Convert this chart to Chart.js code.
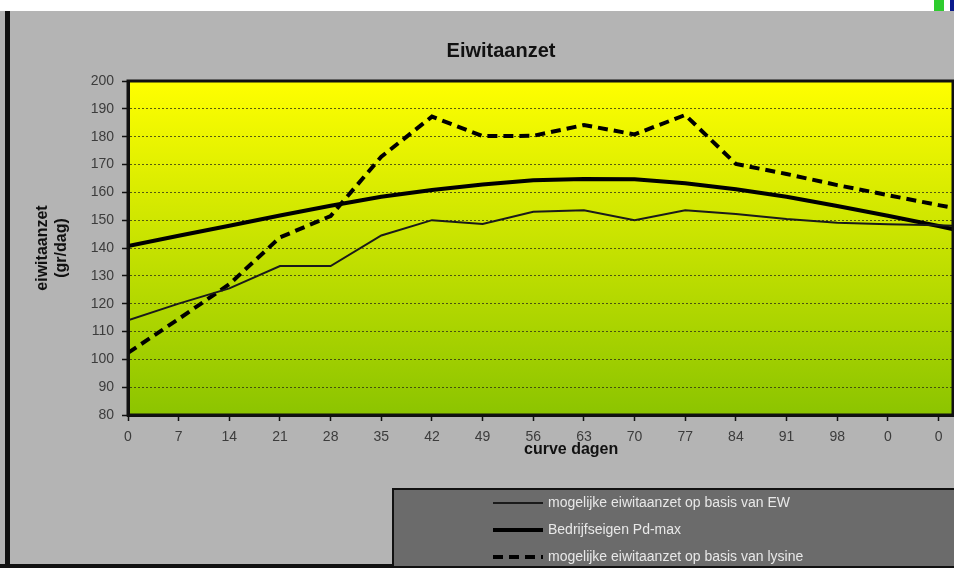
<!DOCTYPE html>
<html>
<head>
<meta charset="utf-8">
<title>Eiwitaanzet</title>
<script src="https://cdn.jsdelivr.net/npm/chart.js@4.4.1/dist/chart.umd.min.js"></script>
<style>
  html, body { margin: 0; padding: 0; background: #fff; overflow: hidden; }
  #wrap { width: 954px; height: 568px; }
</style>
</head>
<body>
<div id="wrap"><canvas id="eiwitChart" width="954" height="568"></canvas></div>
<script>
// curve days (x positions), the last one lies just past the right edge
const dagen = [0, 7, 14, 21, 28, 35, 42, 49, 56, 63, 70, 77, 84, 91, 98, 105, 112, 119];
const tickLabels = ["0", "7", "14", "21", "28", "35", "42", "49", "56", "63", "70", "77", "84", "91", "98", "0", "0"];

const ewValues = [114, 120, 125.5, 133.5, 133.5, 144.5, 150, 148.6, 153, 153.6, 150, 153.6, 152.2, 150.4, 149.1, 148.5, 148.2, 147.5];
const pdMaxValues = [140.7, 144.4, 148, 151.7, 155.2, 158.4, 160.8, 162.8, 164.3, 164.8, 164.7, 163.3, 161.1, 158.4, 155.1, 151.6, 147.9, 144];
const lysineValues = [102.3, 114.5, 127, 143.8, 151.5, 172.8, 187.2, 180.2, 180.3, 184.2, 180.8, 187.8, 170.2, 166.6, 162.6, 159, 155.4, 152];

const seriesLabels = [
  "mogelijke eiwitaanzet op basis van EW",
  "Bedrijfseigen Pd-max",
  "mogelijke eiwitaanzet op basis van lysine"
];

const FONT = "'Liberation Sans', Arial, sans-serif";
Chart.defaults.font.family = FONT;

function points(values) {
  return values.map(function (v, i) { return { x: dagen[i], y: v }; });
}

const framePlugin = {
  id: "excelFrame",
  beforeDraw(chart) {
    const ctx = chart.ctx;
    const a = chart.chartArea;
    ctx.save();
    ctx.fillStyle = "#ffffff";
    ctx.fillRect(0, 0, chart.width, chart.height);
    ctx.fillStyle = "#b4b4b4";
    ctx.fillRect(0, 11, chart.width, chart.height - 11);
    ctx.fillStyle = "#111";
    ctx.fillRect(5, 11, 5, chart.height - 11);
    ctx.fillRect(0, 564, chart.width, 4);
    ctx.fillStyle = "#2ecc2e";
    ctx.fillRect(934, 0, 10, 11);
    ctx.fillStyle = "#0a1a8c";
    ctx.fillRect(950, 0, 4, 11);

    const grad = ctx.createLinearGradient(0, a.top, 0, a.bottom);
    grad.addColorStop(0, "#ffff00");
    grad.addColorStop(1, "#8cc400");
    ctx.fillStyle = grad;
    ctx.fillRect(a.left, a.top, a.right - a.left, a.bottom - a.top);
    ctx.restore();
  },
  afterDraw(chart) {
    const ctx = chart.ctx;
    const a = chart.chartArea;
    ctx.save();
    // plot frame
    ctx.strokeStyle = "#111";
    ctx.lineWidth = 3;
    ctx.strokeRect(a.left, a.top, a.right - a.left, a.bottom - a.top);

    // titles
    ctx.fillStyle = "#111";
    ctx.textBaseline = "middle";
    ctx.textAlign = "center";
    ctx.font = "bold 20px " + FONT;
    ctx.fillText("Eiwitaanzet", 501, 51);
    ctx.textAlign = "left";
    ctx.font = "bold 16px " + FONT;
    ctx.fillText("curve dagen", 524, 450);

    // legend box
    const lx = 392, ly = 488;
    ctx.fillStyle = "#6b6b6b";
    ctx.fillRect(lx, ly, chart.width - lx, 78);
    ctx.strokeStyle = "#111";
    ctx.lineWidth = 2;
    ctx.strokeRect(lx + 1, ly + 1, chart.width, 80);
    ctx.font = "14px " + FONT;
    chart.data.datasets.forEach(function (ds, i) {
      const y = 503 + i * 27;
      ctx.strokeStyle = ds.borderColor;
      ctx.lineWidth = ds.borderWidth;
      ctx.setLineDash(ds.borderDash || []);
      ctx.beginPath();
      ctx.moveTo(493, y);
      ctx.lineTo(543, y);
      ctx.stroke();
      ctx.setLineDash([]);
      ctx.fillStyle = "#e8e8e8";
      ctx.fillText(ds.label, 548, y);
    });
    ctx.restore();
  }
};

new Chart(document.getElementById("eiwitChart"), {
  type: "line",
  data: {
    datasets: [
      {
        label: seriesLabels[0],
        data: points(ewValues),
        borderColor: "#1a1a1a",
        borderWidth: 2,
        pointRadius: 0,
        tension: 0
      },
      {
        label: seriesLabels[1],
        data: points(pdMaxValues),
        borderColor: "#000",
        borderWidth: 4,
        pointRadius: 0,
        tension: 0
      },
      {
        label: seriesLabels[2],
        data: points(lysineValues),
        borderColor: "#000",
        borderWidth: 4,
        borderDash: [10, 6],
        pointRadius: 0,
        tension: 0
      }
    ]
  },
  options: {
    responsive: false,
    animation: false,
    layout: { padding: { left: 0, top: 81, right: 1, bottom: 0 } },
    plugins: {
      legend: { display: false },
      title: { display: false },
      tooltip: { enabled: false }
    },
    scales: {
      x: {
        type: "linear",
        min: 0,
        max: 114,
        afterFit: function (scale) { scale.height = 153; },
        ticks: {
          stepSize: 7,
          includeBounds: false,
          autoSkip: false,
          maxRotation: 0,
          padding: 8,
          color: "#3c3c3c",
          font: { size: 14 },
          callback: function (v) {
            const i = dagen.indexOf(v);
            return i >= 0 && i < tickLabels.length ? tickLabels[i] : "";
          }
        },
        grid: {
          drawOnChartArea: false,
          drawTicks: true,
          tickLength: 6,
          tickColor: "#111",
          tickWidth: 1.5
        },
        border: { display: true, color: "#111", width: 3 }
      },
      y: {
        min: 80,
        max: 200,
        afterFit: function (scale) { scale.width = 128; },
        ticks: {
          stepSize: 10,
          padding: 8,
          color: "#3c3c3c",
          font: { size: 14 }
        },
        grid: {
          color: "rgba(40,40,20,0.75)",
          lineWidth: 1,
          tickLength: 6,
          tickColor: "#111",
          tickWidth: 1.5
        },
        border: { display: true, color: "#111", width: 3, dash: [2, 2] },
        title: {
          display: true,
          text: ["eiwitaanzet", "(gr/dag)"],
          color: "#111",
          font: { size: 16, weight: "bold" },
          padding: { top: 33, bottom: 0 }
        }
      }
    }
  },
  plugins: [framePlugin]
});
</script>
</body>
</html>
